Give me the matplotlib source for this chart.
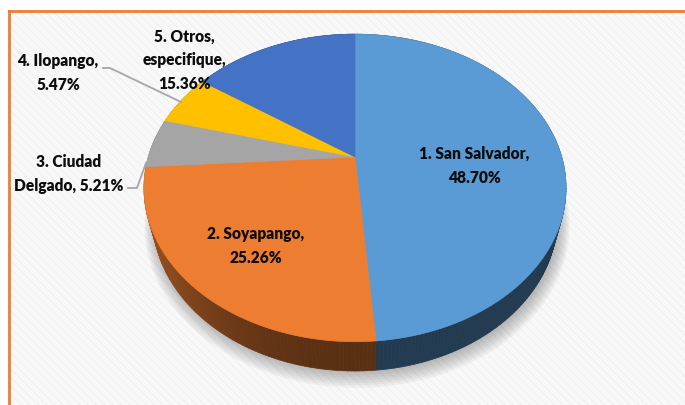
import matplotlib.pyplot as plt
import numpy as np
from matplotlib.patches import Polygon, Rectangle
from matplotlib.collections import PolyCollection
from matplotlib.colors import to_rgb

# data
labels = ['1. San Salvador,\n48.70%', '2. Soyapango,\n25.26%', '3. Ciudad\nDelgado, 5.21%',
          '4. Ilopango,\n5.47%', '5. Otros,\nespecifique,\n15.36%']
values = [48.70, 25.26, 5.21, 5.47, 15.36]
colors = ['#5B9BD5', '#ED7D31', '#A5A5A5', '#FFC000', '#4472C4']

# label places (pixels) and leader lines
label_pos = [(474, 166), (256, 246), (69, 174), (58, 73), (184, 60)]
leaders = {2: [(128, 189), (137, 189), (146, 164)],
           3: [(103, 69), (110, 69), (181, 103)]}

plt.rcParams['hatch.linewidth'] = 0.6

# camera for the 3d look
cx, cy = 355, 158
fx, fy = 738.0, 756.8
D = 3.57
sn, cs = 0.696, 0.718
h = 0.212


def proj(X, Y, Z):
    depth = D + Y * cs - Z * sn
    u = fx * X / depth
    v = fy * (Y * sn + Z * cs) / depth
    return cx + u, cy - v


fig = plt.figure(figsize=(6.85, 4.06), dpi=100)
ax = fig.add_axes([0, 0, 1, 1])
ax.set_xlim(0, 685)
ax.set_ylim(406, 0)
ax.axis('off')

# background panel with faint stripes
ax.add_patch(Rectangle((9, 12), 700, 420, facecolor='#f8f8f8', edgecolor='#ededed',
                       hatch='\\\\\\\\', linewidth=0, zorder=0))
ax.plot([9, 9], [406, 12], color='#ED7D31', lw=2, zorder=1)
ax.plot([9, 685], [12, 12], color='#ED7D31', lw=2, zorder=1)

# soft shadow
t = np.linspace(0, 2 * np.pi, 300)
for k in range(7):
    s = 1 + 0.008 * k
    px, py = proj(s * np.sin(t), s * np.cos(t), -h)
    ax.add_patch(Polygon(np.column_stack([px + 2, py + 2 + 0.6 * k]), closed=True,
                         facecolor='#606060', edgecolor='none', alpha=0.07, zorder=2))

# slices
fracs = np.array(values) / sum(values)
edges = np.concatenate([[0], np.cumsum(fracs)]) * 2 * np.pi
quads, qcols, qdepth = [], [], []
tops = []
for i, c in enumerate(colors):
    th = np.linspace(edges[i], edges[i + 1], max(int(fracs[i] * 400), 4))
    X, Y = np.sin(th), np.cos(th)
    base = np.array(to_rgb(c))
    for j in range(len(th) - 1):
        a = proj(X[j], Y[j], 0)
        b = proj(X[j + 1], Y[j + 1], 0)
        b2 = proj(X[j + 1], Y[j + 1], -h)
        a2 = proj(X[j], Y[j], -h)
        xm = 0.5 * (X[j] + X[j + 1])
        shade = 0.38 + 0.32 * max(0, -xm) ** 2
        quads.append([a, b, b2, a2])
        qcols.append(base * shade)
        qdepth.append(0.5 * (Y[j] + Y[j + 1]))
    px, py = proj(X, Y, 0 * X)
    poly = np.vstack([[cx, cy], np.column_stack([px, py])])
    tops.append(Polygon(poly, closed=True, facecolor=c, edgecolor=c, lw=0.5, zorder=5))

order = np.argsort(qdepth)[::-1]
pc = PolyCollection([quads[k] for k in order], facecolors=[qcols[k] for k in order],
                    edgecolors=[qcols[k] for k in order], linewidths=0.5, zorder=4)
ax.add_collection(pc)
for p in tops:
    ax.add_patch(p)

# leaders and labels
for i, pts in leaders.items():
    pts = np.array(pts)
    ax.plot(pts[:, 0], pts[:, 1], color='#a6a6a6', lw=1.3, zorder=6)
for lab, (x, y) in zip(labels, label_pos):
    ax.text(x, y, lab, ha='center', va='center', fontsize=11.2, fontweight='heavy',
            family='Lato', color='#0d0d0d', linespacing=1.6, zorder=7)

fig.savefig('out.png', dpi=100)
